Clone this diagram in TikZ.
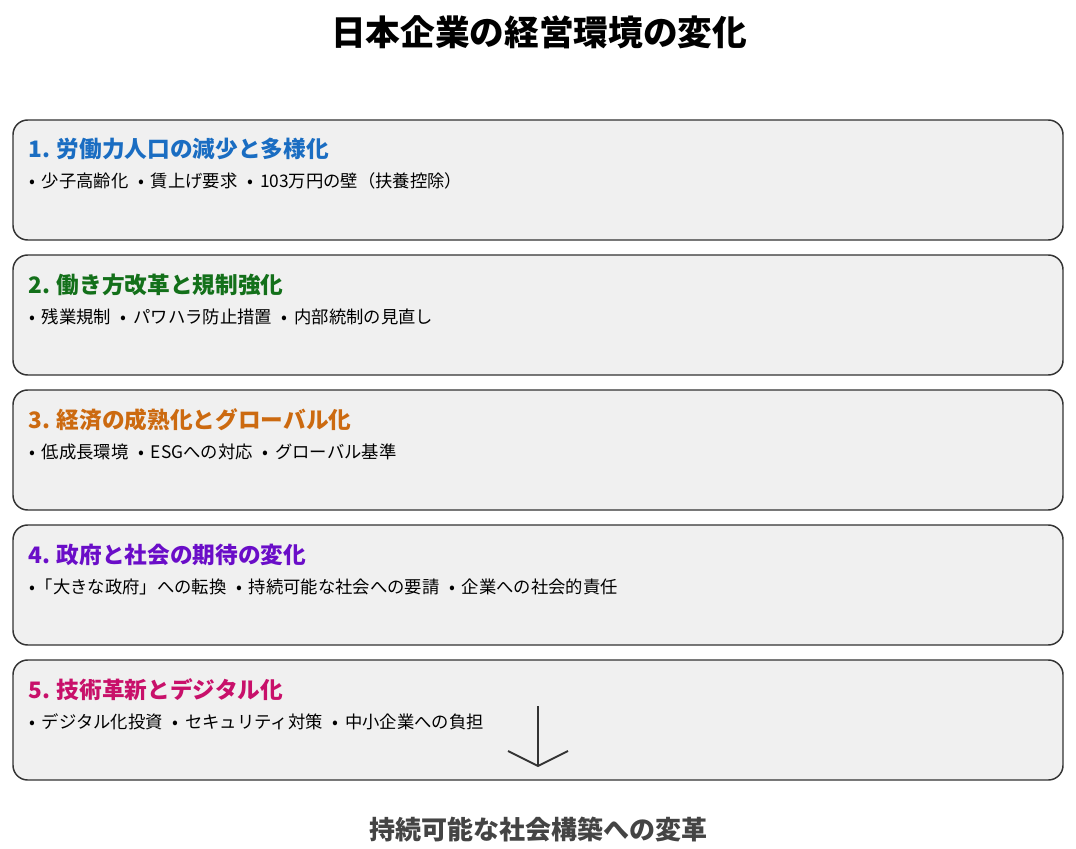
\documentclass[tikz,border=0pt]{standalone}
\usepackage{fontspec}
\setmainfont{Noto Sans CJK JP}
\definecolor{boxfill}{HTML}{F0F0F0}
\definecolor{boxline}{HTML}{333333}
\definecolor{hblue}{HTML}{1A6DC2}
\definecolor{hgreen}{HTML}{13701A}
\definecolor{horange}{HTML}{CC6A10}
\definecolor{hpurple}{HTML}{6A0DC8}
\definecolor{hpink}{HTML}{C8106A}
\definecolor{endtext}{HTML}{444444}
\newcommand{\dotsep}{\hspace{0.55em}•\hspace{0.4em}}
\newcommand{\dotfirst}{\hspace{0.1em}•\hspace{0.35em}}
\begin{document}
\begin{tikzpicture}[x=0.75pt,y=-0.75pt,
  panel/.style={draw=boxline, fill=boxfill, line width=1.1pt, rounded corners=11pt,
    minimum width=787.5pt, minimum height=90pt, inner sep=0pt},
  head/.style={anchor=base west, inner sep=0pt, font=\fontsize{17}{20}\selectfont\bfseries},
  items/.style={anchor=base west, inner sep=0pt, font=\fontsize{13}{15}\selectfont, text=black}]
\useasboundingbox (0,0) rectangle (1076,849);
\node[font=\fontsize{26}{30}\selectfont\bfseries, text=black] (title) at (539,32) {日本企業の経営環境の変化};
% five panels
\node[panel] (p1) at (538,180) {};
\node[panel] (p2) at (538,315) {};
\node[panel] (p3) at (538,450) {};
\node[panel] (p4) at (538,585) {};
\node[panel] (p5) at (538,720) {};
\node[head, text=hblue] (h1) at (28,158) {1. 労働力人口の減少と多様化};
\node[items] (t1) at (28,188) {\dotfirst 少子高齢化\dotsep 賃上げ要求\dotsep 103万円の壁（扶養控除）};
\node[head, text=hgreen] (h2) at (28,293) {2. 働き方改革と規制強化};
\node[items] (t2) at (28,323) {\dotfirst 残業規制\dotsep パワハラ防止措置\dotsep 内部統制の見直し};
\node[head, text=horange] (h3) at (28,428) {3. 経済の成熟化とグローバル化};
\node[items] (t3) at (28,458) {\dotfirst 低成長環境\dotsep ESGへの対応\dotsep グローバル基準};
\node[head, text=hpurple] (h4) at (28,563) {4. 政府と社会の期待の変化};
\node[items] (t4) at (28,593) {\dotfirst\hspace{-0.35em}「大きな政府」への転換\dotsep 持続可能な社会への要請\dotsep 企業への社会的責任};
\node[head, text=hpink] (h5) at (28,698) {5. 技術革新とデジタル化};
\node[items] (t5) at (28,728) {\dotfirst デジタル化投資\dotsep セキュリティ対策\dotsep 中小企業への負担};
% arrow
\coordinate (atop) at (538,706);
\coordinate (atip) at (538,766);
\coordinate (aleft) at (508,751);
\coordinate (aright) at (568,751);
\draw[boxline, line width=1.5pt] (atop) -- (atip);
\draw[boxline, line width=1.5pt] (aleft) -- (atip) -- (aright);
\node[font=\fontsize{19.5}{23}\selectfont\bfseries, text=endtext] (goal) at (538,830) {持続可能な社会構築への変革};
\end{tikzpicture}
\end{document}
